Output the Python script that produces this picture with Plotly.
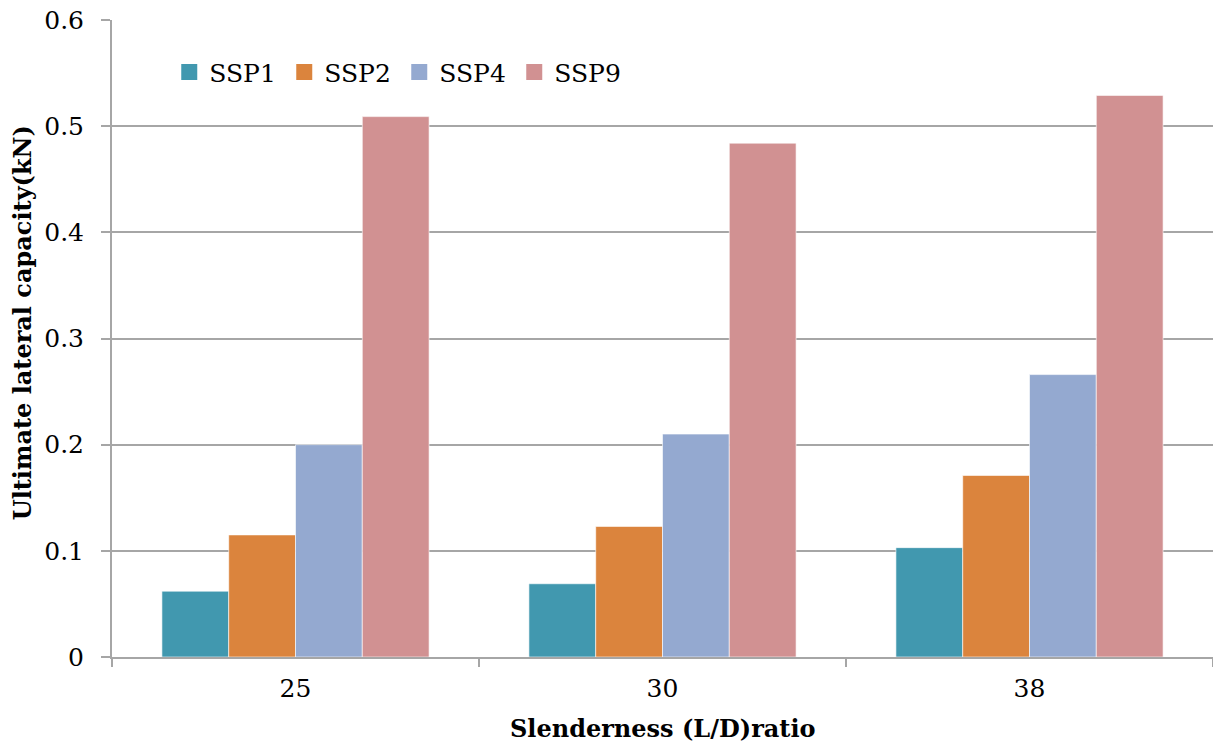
import plotly.graph_objects as go

# Slenderness ratios (L/D) on the category axis
categories = ["25", "30", "38"]

# Ultimate lateral capacity (kN) for each pile configuration
ssp1 = [0.062, 0.069, 0.103]
ssp2 = [0.115, 0.123, 0.171]
ssp4 = [0.200, 0.210, 0.266]
ssp9 = [0.509, 0.484, 0.529]

series_names = ["SSP1", "SSP2", "SSP4", "SSP9"]
series_values = [ssp1, ssp2, ssp4, ssp9]
series_colors = ["#4198AF", "#DB843D", "#94A9D0", "#D19192"]

x_title = "Slenderness (L/D)ratio"
y_title = "Ultimate lateral capacity(kN)"

font_family = "DejaVu Serif"
grid_color = "#A6A6A6"

fig = go.Figure()
for name, vals, color in zip(series_names, series_values, series_colors):
    fig.add_trace(go.Bar(
        x=categories, y=vals, name=name, showlegend=False,
        marker=dict(color=color, line=dict(color="rgba(255,255,255,0.6)", width=1)),
    ))

# Legend keys as larger square swatches
for name, color in zip(series_names, series_colors):
    fig.add_trace(go.Scatter(
        x=[None], y=[None], mode="markers", name=name,
        marker=dict(symbol="square", size=16, color=color),
    ))

fig.update_layout(
    width=1213, height=746,
    margin=dict(l=112, r=0, t=20, b=89),
    paper_bgcolor="white", plot_bgcolor="white",
    font=dict(family=font_family, size=24, color="black"),
    barmode="group", bargap=0.272, bargroupgap=0,
    showlegend=True,
    legend=dict(
        orientation="h", x=0.052, y=0.918, xanchor="left", yanchor="middle",
        bgcolor="rgba(0,0,0,0)", font=dict(family=font_family, size=25),
        entrywidth=70, entrywidthmode="pixels",
        traceorder="normal", itemwidth=30,
    ),
    xaxis=dict(
        type="category",
        showline=True, linecolor=grid_color, linewidth=2,
        ticks="outside", tickson="boundaries", ticklen=8, tickwidth=2, tickcolor=grid_color,
        showgrid=False,
        tickfont=dict(family=font_family, size=25),
        ticklabelstandoff=8,
    ),
    yaxis=dict(
        range=[0, 0.6], dtick=0.1, tick0=0,
        showline=True, linecolor=grid_color, linewidth=2,
        ticks="outside", ticklen=9, tickwidth=2, tickcolor=grid_color,
        showgrid=True, gridcolor=grid_color, gridwidth=2,
        zeroline=False,
        tickfont=dict(family=font_family, size=25),
        ticklabelstandoff=12,
    ),
    annotations=[
        dict(
            text=f"<b>{x_title}</b>", xref="paper", yref="paper",
            x=0.5, y=-0.1115, xanchor="center", yanchor="middle",
            showarrow=False, font=dict(family=font_family, size=24),
        ),
        dict(
            text=f"<b>{y_title}</b>", xref="paper", yref="paper",
            x=-0.0817, y=0.524, xanchor="center", yanchor="middle",
            textangle=-90, showarrow=False, font=dict(family=font_family, size=24),
        ),
    ],
)

fig.write_html("out.html")
